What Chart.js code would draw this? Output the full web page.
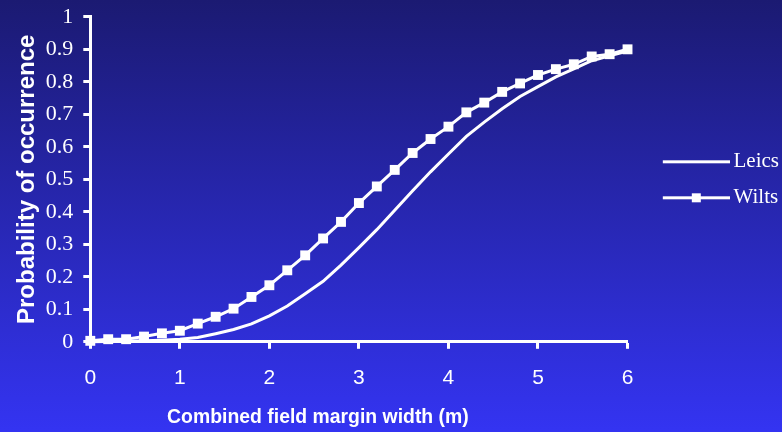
<!DOCTYPE html>
<html>
<head>
<meta charset="utf-8">
<script src="https://cdn.jsdelivr.net/npm/chart.js@4.4.1/dist/chart.umd.min.js"></script>
<style>
	html, body { margin: 0; padding: 0; background: #2a2ac0; }
	#wrap { width: 782px; height: 432px; }
</style>
</head>
<body>
<div id="wrap"><canvas id="myChart" width="782" height="432"></canvas></div>
<script>
// Data

var Width_m = [0, 0.2, 0.4, 0.6, 0.8, 1, 1.2, 1.4, 1.6, 1.8, 2, 2.2, 2.4, 2.6, 2.8, 3,
	3.2, 3.4, 3.6, 3.8, 4, 4.2, 4.4, 4.6, 4.8, 5, 5.2, 5.4, 5.6, 5.8, 6];
var Leics = [0, 0.001, 0.002, 0.003, 0.005, 0.008, 0.013, 0.025, 0.038, 0.055, 0.08, 0.11,
	0.148, 0.186, 0.236, 0.29, 0.345, 0.405, 0.465, 0.523, 0.578, 0.632, 0.676, 0.717,
	0.755, 0.785, 0.815, 0.84, 0.865, 0.88, 0.895];
var Wilts = [0.003, 0.008, 0.008, 0.016, 0.026, 0.034, 0.056, 0.077, 0.102, 0.138, 0.174, 0.22,
	0.266, 0.318, 0.369, 0.427, 0.478, 0.529, 0.581, 0.624, 0.662, 0.706, 0.736, 0.769,
	0.795, 0.821, 0.839, 0.854, 0.878, 0.885, 0.9];
var X_TICKS = [0, 1, 2, 3, 4, 5, 6];
var Y_TICKS = [0, 0.1, 0.2, 0.3, 0.4, 0.5, 0.6, 0.7, 0.8, 0.9, 1];
var X_TITLE = "Combined field margin width (m)";
var Y_TITLE = "Probability of occurrence";

var SANS = "'Liberation Sans', Arial, sans-serif";
var SERIF = "'Liberation Serif', 'Times New Roman', serif";

function to_points(ys) {
	var pts = [];
	for (var i = 0; i < Width_m.length; i++) {
		pts.push({x: Width_m[i], y: ys[i]});
		}
	return pts;
	}

// line (+ square) images for the legend; left part left blank as a gap
function legend_icon(withMarker) {
	var c = document.createElement("canvas");
	c.width = 94;
	c.height = 12;
	var g = c.getContext("2d");
	g.fillStyle = "#ffffff";
	g.fillRect(27, 5, 67, 3);
	if (withMarker) g.fillRect(56, 2, 9, 9);
	return c;
	}

// gradient backdrop
var bgPlugin = {
	id: "bg",
	beforeDraw: function(chart) {
		var ctx = chart.ctx;
		var grd = ctx.createLinearGradient(0, 0, 0, chart.height);
		grd.addColorStop(0, "#1b1a72");
		grd.addColorStop(1, "#3434f2");
		ctx.save();
		ctx.fillStyle = grd;
		ctx.fillRect(0, 0, chart.width, chart.height);
		ctx.restore();
		}
	};

// x axis title sits left of the plot centre in the original
var xTitlePlugin = {
	id: "xTitle",
	afterDraw: function(chart) {
		var ctx = chart.ctx;
		var a = chart.chartArea;
		ctx.save();
		ctx.fillStyle = "#ffffff";
		ctx.font = "bold 19.4px " + SANS;
		ctx.textAlign = "center";
		ctx.textBaseline = "alphabetic";
		ctx.fillText(X_TITLE, (a.left + a.right) / 2 - 41, a.bottom + 81);
		ctx.restore();
		}
	};

var Ctxt = document.getElementById("myChart").getContext("2d");
var ChartInst = new Chart(Ctxt, {
	type: "line",
	data: {
		datasets: [{
			label: "Leics",
			data: to_points(Leics),
			borderColor: "#ffffff",
			backgroundColor: "#ffffff",
			borderWidth: 3,
			pointRadius: 0,
			tension: 0,
			clip: false
			},
			{
			label: "Wilts",
			data: to_points(Wilts),
			borderColor: "#ffffff",
			backgroundColor: "#ffffff",
			borderWidth: 3,
			pointStyle: "rect",
			pointRadius: 7,
			pointBorderWidth: 0,
			tension: 0,
			clip: false
			}]
		},
	plugins: [bgPlugin, xTitlePlugin],
	options: {
		responsive: false,
		animation: false,
		devicePixelRatio: 1,
		layout: {
			padding: {left: 0, right: -7, top: -3, bottom: 24}
			},
		plugins: {
			tooltip: {enabled: false},
			legend: {
				position: "right",
				fullSize: false,
				labels: {
					color: "#ffffff",
					font: {family: SERIF, size: 21},
					usePointStyle: true,
					pointStyleWidth: 80.5,
					boxHeight: 12,
					padding: 15,
					generateLabels: function(chart) {
						return chart.data.datasets.map(function(ds, i) {
							return {
								text: ds.label,
								datasetIndex: i,
								fillStyle: "#ffffff",
								strokeStyle: "#ffffff",
								fontColor: "#ffffff",
								lineWidth: 0,
								hidden: false,
								pointStyle: legend_icon(i == 1)
								};
							});
						}
					}
				}
			},
		scales: {
			x: {
				type: "linear",
				min: 0,
				max: 6,
				afterBuildTicks: function(axis) {
					axis.ticks = X_TICKS.map(function(v) { return {value: v}; });
					},
				ticks: {
					color: "#ffffff",
					font: {family: SANS, size: 21},
					padding: 17,
					maxRotation: 0
					},
				grid: {
					drawOnChartArea: false,
					drawTicks: true,
					tickLength: 7,
					tickWidth: 3,
					color: "#ffffff"
					},
				border: {color: "#ffffff", width: 3}
				},
			y: {
				type: "linear",
				min: 0,
				max: 1,
				afterBuildTicks: function(axis) {
					axis.ticks = Y_TICKS.map(function(v) { return {value: v}; });
					},
				ticks: {
					color: "#ffffff",
					font: {family: SERIF, size: 22, lineHeight: 0.62},
					padding: 10,
					callback: function(v) { return String(Number(v.toFixed(1))); }
					},
				grid: {
					drawOnChartArea: false,
					drawTicks: true,
					tickLength: 7,
					tickWidth: 3,
					color: "#ffffff"
					},
				border: {color: "#ffffff", width: 3},
				title: {
					display: true,
					text: Y_TITLE,
					color: "#ffffff",
					font: {family: SANS, size: 24, weight: "bold"},
					padding: {top: 13, bottom: -6}
					}
				}
			}
		}
	});
</script>
</body>
</html>
